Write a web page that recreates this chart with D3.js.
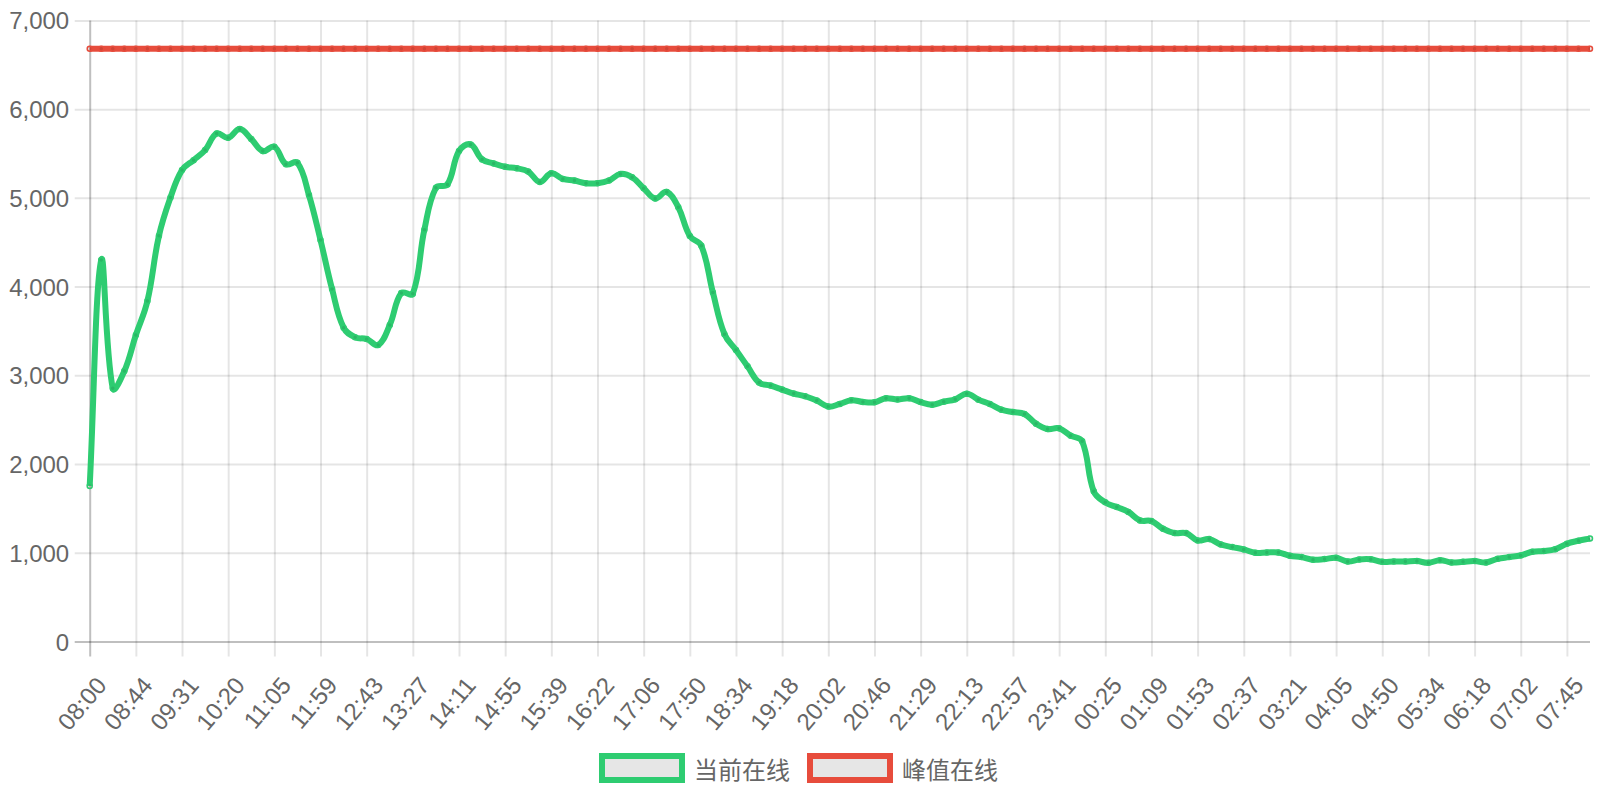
<!DOCTYPE html>
<html>
<head>
<meta charset="utf-8">
<script src="https://cdn.jsdelivr.net/npm/d3@7"></script>
<style>
  html, body { margin: 0; padding: 0; background: #ffffff; }
  svg { display: block; }
  text { font-family: "Liberation Sans", Arial, Helvetica, sans-serif; fill: #666666; }
  .legend text { font-family: "Noto Sans CJK SC", "Liberation Sans", sans-serif; }
</style>
</head>
<body>
<svg id="chart" width="1600" height="800"></svg>
<script>
// ---- data ----
const tickLabels = ["08:00","08:44","09:31","10:20","11:05","11:59","12:43","13:27","14:11","14:55",
  "15:39","16:22","17:06","17:50","18:34","19:18","20:02","20:46","21:29","22:13","22:57","23:41",
  "00:25","01:09","01:53","02:37","03:21","04:05","04:50","05:34","06:18","07:02","07:45"];
const tickStep = 4; // one labelled tick every 4 samples

const currentOnline = [
  1753, 4299, 2853, 3048, 3454, 3837, 4573, 5005, 5313, 5425,
  5538, 5726, 5677, 5775, 5662, 5527, 5576, 5380, 5395, 5031,
  4524, 3972, 3537, 3428, 3409, 3341, 3567, 3927, 3920, 4641,
  5114, 5151, 5527, 5602, 5433, 5388, 5350, 5333, 5296, 5180,
  5277, 5213, 5195, 5165, 5165, 5195, 5270, 5232, 5109, 4993,
  5067, 4895, 4570, 4460, 3933, 3464, 3285, 3101, 2918, 2884,
  2839, 2794, 2764, 2715, 2648, 2678, 2719, 2700, 2697, 2742,
  2727, 2742, 2698, 2669, 2703, 2729, 2793, 2726, 2677, 2613,
  2586, 2564, 2455, 2395, 2402, 2320, 2256, 1692, 1568, 1515,
  1460, 1365, 1357, 1271, 1222, 1222, 1139, 1154, 1094, 1064,
  1038, 1000, 1004, 1004, 966, 951, 921, 929, 944, 902,
  925, 927, 898, 902, 902, 906, 887, 917, 891, 898,
  906, 891, 932, 951, 970, 1011, 1019, 1041, 1102, 1135,
  1162
];

const peakOnline = [
  6680, 6680, 6680, 6680, 6680, 6680, 6680, 6680, 6680, 6680,
  6680, 6680, 6680, 6680, 6680, 6680, 6680, 6680, 6680, 6680,
  6680, 6680, 6680, 6680, 6680, 6680, 6680, 6680, 6680, 6680,
  6680, 6680, 6680, 6680, 6680, 6680, 6680, 6680, 6680, 6680,
  6680, 6680, 6680, 6680, 6680, 6680, 6680, 6680, 6680, 6680,
  6680, 6680, 6680, 6680, 6680, 6680, 6680, 6680, 6680, 6680,
  6680, 6680, 6680, 6680, 6680, 6680, 6680, 6680, 6680, 6680,
  6680, 6680, 6680, 6680, 6680, 6680, 6680, 6680, 6680, 6680,
  6680, 6680, 6680, 6680, 6680, 6680, 6680, 6680, 6680, 6680,
  6680, 6680, 6680, 6680, 6680, 6680, 6680, 6680, 6680, 6680,
  6680, 6680, 6680, 6680, 6680, 6680, 6680, 6680, 6680, 6680,
  6680, 6680, 6680, 6680, 6680, 6680, 6680, 6680, 6680, 6680,
  6680, 6680, 6680, 6680, 6680, 6680, 6680, 6680, 6680, 6680,
  6680
];

const seriesNames = ["当前在线", "峰值在线"];
const seriesColors = ["#2ecc71", "#e74c3c"];
const yTicks = [0, 1000, 2000, 3000, 4000, 5000, 6000, 7000];

// ---- layout ----
const area = { left: 89.7, right: 1590, top: 20.4, bottom: 641.5 };
const svg = d3.select("#chart");
svg.append("rect").attr("width", 1600).attr("height", 800).attr("fill", "#fff");

const n = currentOnline.length;
const x = d3.scaleLinear().domain([0, n - 1]).range([area.left, area.right]);
const y = d3.scaleLinear().domain([0, 7000]).range([area.bottom, area.top]);

const gridColor = "rgba(0,0,0,0.1)";
const zeroColor = "rgba(0,0,0,0.25)";
const tickLen = 15;

// horizontal grid + y labels
const yAxis = d3.axisLeft(y).tickValues(yTicks).tickFormat(d3.format(","))
  .tickSize(-(area.right - area.left + tickLen)).tickPadding(0);
const gy = svg.append("g").attr("transform", `translate(${area.left - tickLen},0)`).call(yAxis);
gy.select(".domain").remove();
gy.selectAll(".tick line")
  .attr("stroke", d => d === 0 ? zeroColor : gridColor)
  .attr("stroke-width", 2);
gy.selectAll(".tick text")
  .attr("x", -5.5).attr("dy", null)
  .attr("dominant-baseline", "central")
  .style("font-size", "24px").attr("fill", "#666");

// vertical grid + x labels
const xTickIdx = tickLabels.map((_, i) => i * tickStep);
const xAxis = d3.axisBottom(x).tickValues(xTickIdx)
  .tickFormat((d, i) => tickLabels[i])
  .tickSize(-(area.bottom - area.top + tickLen)).tickPadding(0);
const gx = svg.append("g").attr("transform", `translate(0,${area.bottom + tickLen})`).call(xAxis);
gx.select(".domain").remove();
gx.selectAll(".tick line")
  .attr("stroke", d => d === 0 ? zeroColor : gridColor)
  .attr("stroke-width", 2);
gx.selectAll(".tick text")
  .attr("y", null).attr("dy", null)
  .attr("text-anchor", "end")
  .attr("dominant-baseline", "central")
  .attr("transform", "translate(11,24) rotate(-50)")
  .style("font-size", "24px").attr("fill", "#666");

// Chart.js-style spline (tension 0.4)
function splinePath(values) {
  const pts = values.map((v, i) => ({ x: x(i), y: y(v) }));
  const t = 0.4;
  const cps = pts.map((p, i) => {
    const prev = pts[Math.max(0, i - 1)], next = pts[Math.min(pts.length - 1, i + 1)];
    const d01 = Math.hypot(p.x - prev.x, p.y - prev.y);
    const d12 = Math.hypot(next.x - p.x, next.y - p.y);
    let s01 = d01 / (d01 + d12), s12 = d12 / (d01 + d12);
    if (!isFinite(s01)) s01 = 0;
    if (!isFinite(s12)) s12 = 0;
    const fa = t * s01, fb = t * s12;
    const cap = (cx, cy) => [Math.max(area.left, Math.min(area.right, cx)), Math.max(area.top, Math.min(area.bottom, cy))];
    const [px, py] = cap(p.x - fa * (next.x - prev.x), p.y - fa * (next.y - prev.y));
    const [nx, ny] = cap(p.x + fb * (next.x - prev.x), p.y + fb * (next.y - prev.y));
    return { px, py, nx, ny };
  });
  const path = d3.path();
  path.moveTo(pts[0].x, pts[0].y);
  for (let i = 1; i < pts.length; i++) {
    path.bezierCurveTo(cps[i - 1].nx, cps[i - 1].ny, cps[i].px, cps[i].py, pts[i].x, pts[i].y);
  }
  return path.toString();
}

const datasets = [currentOnline, peakOnline];
// Chart.js draws last dataset first
for (let k = datasets.length - 1; k >= 0; k--) {
  const g = svg.append("g");
  g.append("path").attr("d", splinePath(datasets[k]))
    .attr("fill", "none").attr("stroke", seriesColors[k])
    .attr("stroke-width", 6).attr("stroke-linejoin", "round").attr("stroke-linecap", "butt");
  g.selectAll("circle").data(datasets[k]).join("circle")
    .attr("cx", (d, i) => x(i)).attr("cy", d => y(d)).attr("r", 2.5)
    .attr("fill", "rgba(0,0,0,0.1)").attr("stroke", seriesColors[k]).attr("stroke-width", 1.5);
}

// legend
const leg = svg.append("g").attr("class", "legend");
const boxW = 80, boxH = 24, fontSize = 24;
const items = seriesNames.map((name, i) => {
  const t = leg.append("text").text(name).style("font-size", fontSize + "px").attr("fill", "#666")
    .attr("dominant-baseline", "central");
  return { t, w: t.node().getComputedTextLength(), i };
});
const itemWidths = items.map(it => boxW + fontSize / 2 + it.w);
const totalW = d3.sum(itemWidths) + 20 * (items.length - 1);
let cx = 800 - totalW / 2;
const legY = 756;
items.forEach((it, i) => {
  leg.append("rect").attr("x", cx).attr("y", legY).attr("width", boxW).attr("height", boxH)
    .attr("fill", "#e6e6e6").attr("stroke", seriesColors[i]).attr("stroke-width", 6);
  it.t.attr("x", cx + boxW + fontSize / 2).attr("y", legY + boxH / 2);
  cx += itemWidths[i] + 20;
});
</script>
</body>
</html>
